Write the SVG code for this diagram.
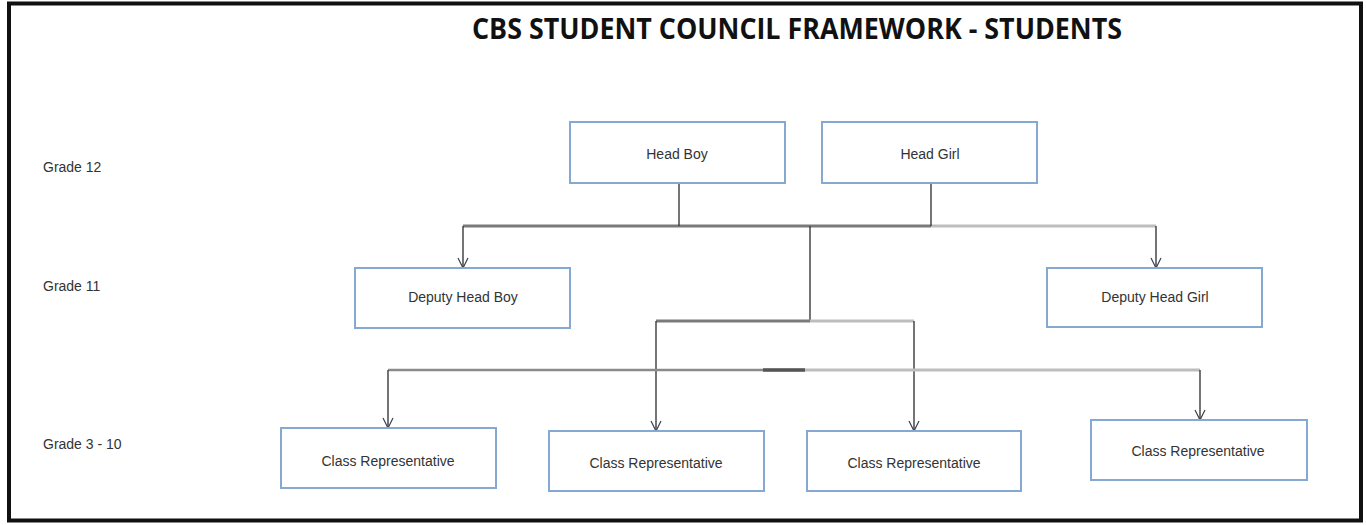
<svg xmlns="http://www.w3.org/2000/svg" width="1367" height="525" viewBox="0 0 1367 525">
<defs>
<marker id="arr" viewBox="0 0 12 12" refX="11" refY="6" markerWidth="12" markerHeight="12" markerUnits="userSpaceOnUse" orient="auto">
<path d="M1,1 L11,6 L1,11" fill="none" stroke="#3a4250" stroke-width="1.2"/>
</marker>
</defs>
<style>
.box{fill:#ffffff;stroke:#86a9d4;stroke-width:2}
.lbl{font-family:"Liberation Sans","DejaVu Sans",sans-serif;font-size:14px;fill:#333;text-anchor:middle}
.grade{font-family:"Liberation Sans","DejaVu Sans",sans-serif;font-size:14px;fill:#333}
.ln{fill:none;stroke:#3a3a3a;stroke-width:1.4}
.bar{fill:none;stroke:#7a7a7a;stroke-width:3}
.barl{fill:none;stroke:#bdbdbd;stroke-width:3}
</style>
<rect x="0" y="0" width="1367" height="525" fill="#ffffff"/>
<rect x="9" y="3.5" width="1352" height="517" fill="none" stroke="#111" stroke-width="4"/>
<text x="797" y="39" font-family="'Open Sans','Liberation Sans',sans-serif" font-weight="bold" font-size="28" fill="#111" text-anchor="middle" textLength="650" lengthAdjust="spacingAndGlyphs">CBS STUDENT COUNCIL FRAMEWORK - STUDENTS</text>
<text class="grade" x="43" y="172">Grade 12</text>
<text class="grade" x="43" y="291">Grade 11</text>
<text class="grade" x="43" y="449">Grade 3 - 10</text>
<g id="connectors">
<line class="bar" x1="463" y1="226" x2="931" y2="226"/>
<line class="barl" x1="931" y1="226" x2="1156" y2="226"/>
<line class="ln" x1="679" y1="183" x2="679" y2="226"/>
<line class="ln" x1="931" y1="183" x2="931" y2="226"/>
<line class="ln" x1="810" y1="226" x2="810" y2="321"/>
<line class="ln" x1="463" y1="226" x2="463" y2="268" marker-end="url(#arr)"/>
<line class="ln" x1="1156" y1="226" x2="1156" y2="268" marker-end="url(#arr)"/>
<line class="bar" x1="656" y1="321" x2="810" y2="321"/>
<line class="barl" x1="810" y1="321" x2="914" y2="321"/>
<line class="ln" x1="656" y1="321" x2="656" y2="431" marker-end="url(#arr)"/>
<line class="ln" x1="914" y1="321" x2="914" y2="431" marker-end="url(#arr)"/>
<line class="bar" x1="388" y1="370" x2="805" y2="370" style="stroke:#8a8a8a;stroke-width:2.5"/>
<line class="ln" x1="763" y1="370" x2="805" y2="370" style="stroke:#555;stroke-width:3.5"/>
<line class="barl" x1="805" y1="370" x2="1200" y2="370"/>
<line class="ln" x1="388" y1="370" x2="388" y2="428" marker-end="url(#arr)"/>
<line class="ln" x1="1200" y1="370" x2="1200" y2="420" marker-end="url(#arr)"/>
</g>
<g id="head-boy"><rect class="box" x="570" y="122" width="215" height="61"/><text class="lbl" x="677" y="159">Head Boy</text></g>
<g id="head-girl"><rect class="box" x="822" y="122" width="215" height="61"/><text class="lbl" x="930" y="159">Head Girl</text></g>
<g id="deputy-head-boy"><rect class="box" x="355" y="268" width="215" height="60"/><text class="lbl" x="463" y="302">Deputy Head Boy</text></g>
<g id="deputy-head-girl"><rect class="box" x="1047" y="268" width="215" height="59"/><text class="lbl" x="1155" y="302">Deputy Head Girl</text></g>
<g id="class-rep-1"><rect class="box" x="281" y="428" width="215" height="60"/><text class="lbl" x="388" y="466">Class Representative</text></g>
<g id="class-rep-2"><rect class="box" x="549" y="431" width="215" height="60"/><text class="lbl" x="656" y="468">Class Representative</text></g>
<g id="class-rep-3"><rect class="box" x="807" y="431" width="214" height="60"/><text class="lbl" x="914" y="468">Class Representative</text></g>
<g id="class-rep-4"><rect class="box" x="1091" y="420" width="216" height="60"/><text class="lbl" x="1198" y="456">Class Representative</text></g>
</svg>
